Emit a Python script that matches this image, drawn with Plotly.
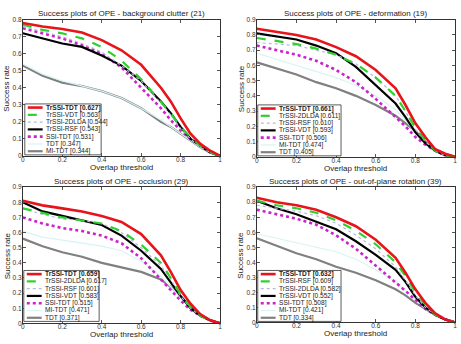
import plotly.graph_objects as go

# ---------------- data ----------------
thresholds = [0, 0.1, 0.2, 0.3, 0.4, 0.5, 0.6, 0.7, 0.75, 0.8, 0.85, 0.9, 0.95, 1.0]

titles = [
    "Success plots of OPE - background clutter (21)",
    "Success plots of OPE - deformation (19)",
    "Success plots of OPE - occlusion (29)",
    "Success plots of OPE - out-of-plane rotation (39)",
]
y_max = [0.8, 0.9, 0.9, 0.9]

# names per subplot (ranked order)
names_bc = ["TrSSI-TDT [0.627]", "TrSSI-VDT [0.563]", "TrSSI-2DLDA [0.544]", "TrSSI-RSF [0.543]",
            "SSI-TDT [0.531]", "TDT [0.347]", "MI-TDT [0.344]"]
names_def = ["TrSSI-TDT [0.661]", "TrSSI-2DLDA [0.611]", "TrSSI-RSF [0.610]", "TrSSI-VDT [0.593]",
             "SSI-TDT [0.506]", "MI-TDT [0.474]", "TDT [0.405]"]
names_occ = ["TrSSI-TDT [0.659]", "TrSSI-2DLDA [0.617]", "TrSSI-RSF [0.601]", "TrSSI-VDT [0.583]",
             "SSI-TDT [0.515]", "MI-TDT [0.471]", "TDT [0.371]"]
names_opr = ["TrSSI-TDT [0.632]", "TrSSI-RSF [0.609]", "TrSSI-2DLDA [0.582]", "TrSSI-VDT [0.552]",
             "SSI-TDT [0.508]", "MI-TDT [0.421]", "TDT [0.334]"]

# background clutter
bc_1 = [0.78, 0.76, 0.745, 0.725, 0.68, 0.62, 0.535, 0.40, 0.32, 0.22, 0.13, 0.07, 0.03, 0.0]
bc_2 = [0.77, 0.74, 0.72, 0.69, 0.64, 0.56, 0.45, 0.32, 0.25, 0.17, 0.11, 0.06, 0.02, 0.0]
bc_3 = [0.76, 0.73, 0.70, 0.66, 0.61, 0.53, 0.44, 0.31, 0.24, 0.16, 0.10, 0.05, 0.02, 0.0]
bc_4 = [0.72, 0.69, 0.66, 0.64, 0.59, 0.53, 0.44, 0.32, 0.25, 0.17, 0.10, 0.06, 0.02, 0.0]
bc_5 = [0.75, 0.72, 0.69, 0.65, 0.60, 0.52, 0.40, 0.28, 0.21, 0.15, 0.10, 0.06, 0.02, 0.0]
bc_6 = [0.54, 0.48, 0.44, 0.41, 0.38, 0.34, 0.28, 0.21, 0.17, 0.13, 0.09, 0.05, 0.02, 0.0]
bc_7 = [0.53, 0.47, 0.43, 0.41, 0.38, 0.34, 0.28, 0.20, 0.17, 0.13, 0.09, 0.05, 0.02, 0.0]

# deformation
def_1 = [0.84, 0.82, 0.80, 0.77, 0.72, 0.66, 0.57, 0.45, 0.34, 0.22, 0.13, 0.05, 0.02, 0.0]
def_2 = [0.78, 0.76, 0.74, 0.71, 0.67, 0.61, 0.52, 0.40, 0.30, 0.19, 0.11, 0.04, 0.01, 0.0]
def_3 = [0.75, 0.74, 0.73, 0.70, 0.67, 0.61, 0.52, 0.40, 0.30, 0.18, 0.10, 0.04, 0.01, 0.0]
def_4 = [0.81, 0.79, 0.77, 0.73, 0.68, 0.59, 0.47, 0.35, 0.26, 0.16, 0.09, 0.04, 0.01, 0.0]
def_5 = [0.73, 0.70, 0.67, 0.63, 0.57, 0.49, 0.38, 0.26, 0.20, 0.13, 0.08, 0.04, 0.01, 0.0]
def_6 = [0.68, 0.64, 0.60, 0.56, 0.52, 0.47, 0.40, 0.31, 0.24, 0.16, 0.09, 0.04, 0.01, 0.0]
def_7 = [0.62, 0.58, 0.54, 0.49, 0.45, 0.40, 0.34, 0.27, 0.22, 0.17, 0.10, 0.05, 0.02, 0.0]

# occlusion
occ_1 = [0.81, 0.78, 0.76, 0.74, 0.71, 0.67, 0.59, 0.45, 0.34, 0.22, 0.13, 0.06, 0.02, 0.0]
occ_2 = [0.76, 0.73, 0.70, 0.68, 0.66, 0.61, 0.52, 0.40, 0.30, 0.19, 0.11, 0.05, 0.02, 0.0]
occ_3 = [0.76, 0.72, 0.69, 0.68, 0.66, 0.60, 0.50, 0.38, 0.29, 0.18, 0.10, 0.05, 0.02, 0.0]
occ_4 = [0.80, 0.74, 0.71, 0.68, 0.65, 0.58, 0.48, 0.36, 0.27, 0.18, 0.10, 0.05, 0.02, 0.0]
occ_5 = [0.70, 0.66, 0.63, 0.61, 0.58, 0.53, 0.43, 0.29, 0.22, 0.15, 0.09, 0.05, 0.02, 0.0]
occ_6 = [0.61, 0.57, 0.55, 0.53, 0.51, 0.48, 0.41, 0.31, 0.24, 0.17, 0.10, 0.05, 0.02, 0.0]
occ_7 = [0.56, 0.51, 0.47, 0.44, 0.40, 0.37, 0.34, 0.29, 0.24, 0.18, 0.11, 0.06, 0.02, 0.0]

# out-of-plane rotation
opr_1 = [0.83, 0.80, 0.78, 0.75, 0.70, 0.64, 0.55, 0.43, 0.33, 0.22, 0.13, 0.06, 0.02, 0.0]
opr_2 = [0.81, 0.78, 0.76, 0.73, 0.68, 0.61, 0.52, 0.40, 0.31, 0.20, 0.12, 0.05, 0.02, 0.0]
opr_3 = [0.78, 0.76, 0.74, 0.71, 0.66, 0.58, 0.49, 0.37, 0.28, 0.18, 0.10, 0.05, 0.02, 0.0]
opr_4 = [0.81, 0.76, 0.72, 0.67, 0.62, 0.54, 0.45, 0.35, 0.27, 0.17, 0.10, 0.05, 0.02, 0.0]
opr_5 = [0.75, 0.72, 0.69, 0.65, 0.58, 0.49, 0.38, 0.27, 0.21, 0.15, 0.09, 0.05, 0.02, 0.0]
opr_6 = [0.59, 0.56, 0.53, 0.50, 0.47, 0.42, 0.35, 0.27, 0.21, 0.15, 0.09, 0.05, 0.02, 0.0]
opr_7 = [0.56, 0.51, 0.46, 0.42, 0.37, 0.33, 0.28, 0.22, 0.18, 0.13, 0.09, 0.05, 0.02, 0.0]

panels = [
    (names_bc, [bc_1, bc_2, bc_3, bc_4, bc_5, bc_6, bc_7]),
    (names_def, [def_1, def_2, def_3, def_4, def_5, def_6, def_7]),
    (names_occ, [occ_1, occ_2, occ_3, occ_4, occ_5, occ_6, occ_7]),
    (names_opr, [opr_1, opr_2, opr_3, opr_4, opr_5, opr_6, opr_7]),
]

# style by rank
styles = [
    dict(color="#e8141b", width=2.6, dash="solid"),
    dict(color="#2fcf2f", width=2.2, dash="dash"),
    dict(color="#b8b8dc", width=1.2, dash="dot"),
    dict(color="#000000", width=2.2, dash="solid"),
    dict(color="#cc22cc", width=2.6, dash="dot"),
    dict(color="#d6f4f4", width=1.2, dash="solid"),
    dict(color="#808080", width=2.2, dash="solid"),
]

# ---------------- layout geometry (pixels) ----------------
W, H = 461, 344
# (left, right, top, bottom) in px
boxes = [(21, 220, 16, 155), (257, 457, 16, 156), (21, 220, 187, 326), (257, 457, 187, 325)]
legend_boxes = [(23, 100, 102, 154), (258, 342, 103, 155), (22, 98, 272, 324), (258, 342, 272, 324)]
ylab_x = [5, 241, 5, 241]

fig = go.Figure()
layout = dict(width=W, height=H, margin=dict(l=0, r=0, t=0, b=0),
              paper_bgcolor="white", plot_bgcolor="white", showlegend=False)
shapes, annotations = [], []
font_family = "Liberation Sans, Arial, sans-serif"

for i, ((names, series), title, ym) in enumerate(zip(panels, titles, y_max)):
    n = "" if i == 0 else str(i + 1)
    xa, ya = "x" + n, "y" + n
    l, r, t, b = boxes[i]
    layout["xaxis" + n] = dict(
        domain=[l / W, r / W], anchor=ya, range=[0, 1],
        tickvals=[0, 0.2, 0.4, 0.6, 0.8, 1], ticktext=["0", "0.2", "0.4", "0.6", "0.8", "1"],
        ticks="inside", ticklen=3, tickcolor="#555", showline=True, linecolor="#333",
        linewidth=0.8, mirror="ticks", showgrid=False, zeroline=False,
        ticklabelstandoff=-3,
        tickfont=dict(size=6.5, color="#333", family=font_family),
    )
    layout["yaxis" + n] = dict(
        domain=[1 - b / H, 1 - t / H], anchor=xa, range=[0, ym], dtick=0.1,
        ticks="inside", ticklen=3, tickcolor="#555", showline=True, linecolor="#333",
        linewidth=0.8, mirror="ticks", showgrid=False, zeroline=False,
        ticklabelstandoff=-1,
        tickfont=dict(size=6.5, color="#333", family=font_family),
    )
    # curves: draw worst first so the best is on top
    for k in reversed(range(len(series))):
        st = styles[k]
        fig.add_trace(go.Scatter(
            x=thresholds, y=series[k], mode="lines", name=names[k],
            xaxis=xa, yaxis=ya,
            line=dict(color=st["color"], width=st["width"], dash=st["dash"]),
        ))
    # title
    annotations.append(dict(text=title, x=(l + r) / 2 / W, y=1 - (t - 6) / H, xref="paper", yref="paper",
                            showarrow=False, xanchor="center", yanchor="middle",
                            font=dict(size=8, color="#222", family=font_family)))
    # x label
    annotations.append(dict(text="Overlap threshold", x=(l + r) / 2 / W, y=1 - (b + 11.5) / H,
                            xref="paper", yref="paper", showarrow=False,
                            xanchor="center", yanchor="middle",
                            font=dict(size=8, color="#222", family=font_family)))
    # y label
    annotations.append(dict(text="Success rate", x=ylab_x[i] / W, y=1 - (t + b) / 2 / H,
                            xref="paper", yref="paper", showarrow=False, textangle=-90,
                            xanchor="center", yanchor="middle",
                            font=dict(size=8, color="#222", family=font_family)))
    # legend (drawn by hand to match the compact boxed legend)
    ll, lr, lt, lb = legend_boxes[i]
    shapes.append(dict(type="rect", xref="paper", yref="paper",
                       x0=ll / W, x1=lr / W, y0=1 - lb / H, y1=1 - lt / H,
                       line=dict(color="#333", width=0.8), fillcolor="white", layer="above"))
    row_h = (lb - lt) / len(names)
    for k, name in enumerate(names):
        st = styles[k]
        cy = lt + (k + 0.5) * row_h
        shapes.append(dict(type="line", xref="paper", yref="paper",
                           x0=(ll + 3) / W, x1=(ll + 18) / W, y0=1 - cy / H, y1=1 - cy / H,
                           line=dict(color=st["color"], width=st["width"], dash=st["dash"]),
                           layer="above"))
        txt = "<b>" + name + "</b>" if k == 0 else name
        annotations.append(dict(text=txt, x=(ll + 19) / W, y=1 - cy / H, xref="paper", yref="paper",
                                showarrow=False, xanchor="left", yanchor="middle",
                                font=dict(size=6.6, color="#222", family=font_family)))

layout["shapes"] = shapes
layout["annotations"] = annotations
fig.update_layout(**layout)
fig.write_html("out.html")
